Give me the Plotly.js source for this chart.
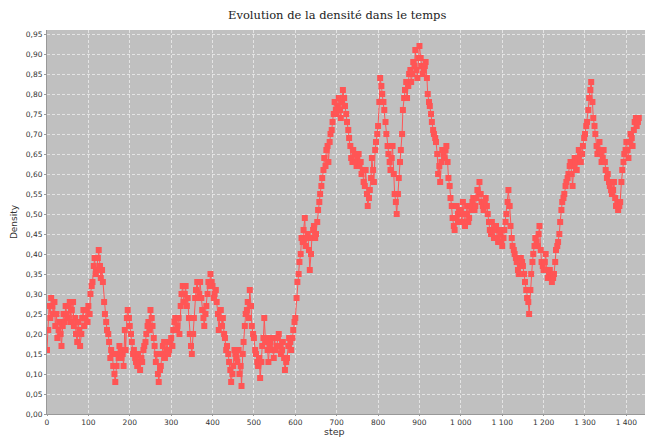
<!DOCTYPE html>
<html>
<head>
<meta charset="utf-8">
<script src="https://cdn.plot.ly/plotly-3.0.1.min.js"></script>
<style>html,body{margin:0;padding:0;background:#fff}#chart{width:656px;height:438px}</style>
</head>
<body>
<div id="chart"></div>
<script>
// Samples: a main reading every 5 steps, plus a second reading 3 steps later
const stepInterval = 5;
const altOffset = 3;

// Main density readings at steps 0, 5, 10, ... 1430
const density_0_95 = [0.16,0.27,0.29,0.25,0.22,0.19,0.23,0.17,0.25,0.27,0.24,0.28,0.26,0.22,0.20,0.23,0.17,0.24,0.22,0.26];
const density_100_195 = [0.27,0.30,0.33,0.39,0.36,0.41,0.34,0.33,0.25,0.21,0.18,0.16,0.12,0.08,0.15,0.17,0.14,0.12,0.16,0.26];
const density_200_295 = [0.22,0.18,0.16,0.13,0.15,0.11,0.13,0.17,0.20,0.23,0.26,0.22,0.17,0.15,0.08,0.12,0.17,0.14,0.18,0.16];
const density_300_395 = [0.19,0.21,0.24,0.22,0.20,0.30,0.28,0.32,0.29,0.20,0.15,0.24,0.31,0.29,0.33,0.26,0.22,0.27,0.33,0.35];
const density_400_495 = [0.32,0.30,0.28,0.21,0.26,0.24,0.19,0.17,0.13,0.08,0.12,0.15,0.13,0.10,0.07,0.18,0.25,0.28,0.31,0.22];
const density_500_595 = [0.19,0.15,0.12,0.09,0.17,0.24,0.19,0.13,0.18,0.16,0.19,0.17,0.20,0.15,0.18,0.11,0.14,0.19,0.16,0.21];
const density_600_695 = [0.24,0.33,0.38,0.44,0.46,0.42,0.45,0.36,0.44,0.47,0.45,0.51,0.55,0.59,0.64,0.66,0.63,0.70,0.73,0.78];
const density_700_795 = [0.75,0.79,0.74,0.81,0.77,0.73,0.69,0.64,0.66,0.63,0.64,0.62,0.60,0.58,0.61,0.52,0.56,0.64,0.58,0.68];
const density_800_895 = [0.72,0.84,0.80,0.76,0.70,0.65,0.61,0.67,0.55,0.50,0.59,0.66,0.76,0.81,0.79,0.85,0.83,0.88,0.91,0.84];
const density_900_995 = [0.92,0.87,0.86,0.88,0.80,0.77,0.73,0.70,0.68,0.60,0.58,0.66,0.64,0.67,0.59,0.54,0.49,0.46,0.52,0.48];
const density_1000_1095 = [0.50,0.53,0.47,0.52,0.49,0.51,0.54,0.52,0.56,0.58,0.53,0.51,0.54,0.50,0.46,0.48,0.44,0.47,0.43,0.45];
const density_1100_1195 = [0.42,0.46,0.50,0.56,0.47,0.42,0.40,0.38,0.35,0.39,0.37,0.33,0.29,0.25,0.35,0.40,0.44,0.42,0.47,0.38];
const density_1200_1295 = [0.36,0.40,0.34,0.36,0.33,0.35,0.41,0.43,0.48,0.53,0.55,0.58,0.60,0.63,0.57,0.64,0.61,0.66,0.63,0.67];
const density_1300_1395 = [0.70,0.73,0.79,0.83,0.74,0.70,0.65,0.68,0.63,0.66,0.61,0.60,0.57,0.55,0.58,0.52,0.51,0.53,0.61,0.65];
const density_1400_1430 = [0.68,0.64,0.70,0.67,0.73,0.72,0.74];

// Second readings at steps 3, 8, 13, ... 1428 (other edge of the noisy band)
const alt_0_95 = [0.21,0.24,0.27,0.28,0.25,0.21,0.20,0.22,0.23,0.25,0.27,0.23,0.28,0.24,0.18,0.21,0.20,0.26,0.24,0.23];
const alt_100_195 = [0.25,0.32,0.37,0.35,0.39,0.37,0.36,0.28,0.23,0.20,0.14,0.15,0.10,0.12,0.14,0.16,0.15,0.21,0.24,0.24];
const alt_200_295 = [0.20,0.15,0.14,0.12,0.13,0.14,0.16,0.18,0.22,0.21,0.24,0.19,0.13,0.10,0.11,0.15,0.18,0.16,0.15,0.18];
const alt_300_395 = [0.17,0.23,0.21,0.24,0.27,0.32,0.30,0.27,0.24,0.17,0.20,0.29,0.33,0.30,0.29,0.24,0.25,0.30,0.32,0.33];
const alt_400_495 = [0.29,0.31,0.25,0.24,0.22,0.20,0.16,0.15,0.11,0.10,0.16,0.14,0.16,0.12,0.15,0.22,0.26,0.24,0.27,0.20];
const alt_500_595 = [0.16,0.13,0.14,0.13,0.19,0.18,0.16,0.17,0.19,0.14,0.16,0.19,0.17,0.16,0.14,0.13,0.17,0.18,0.19,0.23];
const alt_600_695 = [0.29,0.35,0.40,0.43,0.49,0.44,0.41,0.40,0.46,0.44,0.48,0.53,0.57,0.61,0.62,0.67,0.68,0.71,0.75,0.76];
const alt_700_795 = [0.77,0.76,0.78,0.79,0.75,0.71,0.67,0.63,0.65,0.62,0.65,0.63,0.61,0.57,0.55,0.54,0.59,0.61,0.66,0.70];
const alt_800_895 = [0.78,0.82,0.78,0.73,0.67,0.63,0.64,0.60,0.53,0.55,0.63,0.70,0.79,0.83,0.82,0.86,0.85,0.87,0.86,0.89];
const alt_900_995 = [0.89,0.85,0.87,0.84,0.78,0.75,0.71,0.69,0.65,0.62,0.63,0.65,0.66,0.63,0.57,0.52,0.47,0.49,0.50,0.51];
const alt_1000_1095 = [0.48,0.50,0.50,0.48,0.52,0.53,0.51,0.54,0.55,0.55,0.52,0.53,0.52,0.48,0.45,0.46,0.46,0.44,0.46,0.43];
const alt_1100_1195 = [0.44,0.48,0.53,0.52,0.44,0.41,0.39,0.36,0.37,0.38,0.35,0.31,0.28,0.31,0.38,0.42,0.43,0.45,0.41,0.37];
const alt_1200_1295 = [0.38,0.36,0.35,0.34,0.34,0.38,0.42,0.45,0.51,0.54,0.57,0.59,0.62,0.60,0.62,0.63,0.64,0.65,0.65,0.69];
const alt_1300_1395 = [0.72,0.76,0.81,0.78,0.72,0.67,0.66,0.65,0.64,0.63,0.59,0.58,0.56,0.56,0.54,0.53,0.52,0.58,0.63,0.66];
const alt_1400_1430 = [0.66,0.68,0.69,0.71,0.74,0.73];

const yTickValues = [0,0.05,0.10,0.15,0.20,0.25,0.30,0.35,0.40,0.45,0.50,0.55,0.60,0.65,0.70,0.75,0.80,0.85,0.90,0.95];
const xTickValues = [0,100,200,300,400,500,600,700,800,900,1000,1100,1200,1300,1400];

const mainVals = [].concat(density_0_95, density_100_195, density_200_295, density_300_395,
  density_400_495, density_500_595, density_600_695, density_700_795, density_800_895,
  density_900_995, density_1000_1095, density_1100_1195, density_1200_1295,
  density_1300_1395, density_1400_1430);
const altVals = [].concat(alt_0_95, alt_100_195, alt_200_295, alt_300_395, alt_400_495,
  alt_500_595, alt_600_695, alt_700_795, alt_800_895, alt_900_995, alt_1000_1095,
  alt_1100_1195, alt_1200_1295, alt_1300_1395, alt_1400_1430);

const steps = [], density = [];
mainVals.forEach((v, i) => {
  steps.push(i * stepInterval); density.push(v);
  if (i < altVals.length) { steps.push(i * stepInterval + altOffset); density.push(altVals[i]); }
});

const trace = {
  x: steps, y: density, type: 'scatter', mode: 'lines+markers',
  line: {color: '#ff5555', width: 1},
  marker: {symbol: 'square', size: 6, color: '#ff5555'},
  hoverinfo: 'x+y'
};

const axisFont = {family: 'DejaVu Sans, sans-serif', size: 7.5, color: '#333'};
const gridCol = 'rgba(232,232,232,0.9)';

const layout = {
  width: 656, height: 438,
  margin: {l: 47, r: 11, t: 30, b: 24, pad: 0},
  paper_bgcolor: '#ffffff', plot_bgcolor: '#c0c0c0',
  separators: ', ',
  showlegend: false,
  title: {text: 'Evolution de la densité dans le temps', font: {family: 'DejaVu Serif, serif', size: 11.5, color: '#222'},
          x: 0.514, xref: 'container', xanchor: 'center', y: 0.965, yref: 'container', yanchor: 'middle'},
  xaxis: {range: [0, 1445], tickvals: xTickValues, tickformat: ',d', separatethousands: true,
          showgrid: true, gridcolor: gridCol, griddash: '3px,2px', gridwidth: 1,
          zeroline: false, showline: true, linecolor: '#999', linewidth: 1,
          ticks: 'outside', ticklen: 1, tickcolor: '#999', tickfont: axisFont},
  yaxis: {range: [0, 0.96], tickvals: yTickValues, tickformat: '.2f',
          showgrid: true, gridcolor: gridCol, griddash: '3px,2px', gridwidth: 1,
          zeroline: false, showline: true, linecolor: '#999', linewidth: 1,
          ticks: 'outside', ticklen: 2, tickcolor: '#999', tickfont: axisFont,
          title: {text: 'Density', font: {family: 'DejaVu Sans, sans-serif', size: 9, color: '#333'}, standoff: 6}},
  annotations: [{text: 'step', xref: 'paper', yref: 'paper', x: 0.48, y: -0.0625,
                 xanchor: 'center', yanchor: 'bottom', showarrow: false, borderpad: 0,
                 font: {family: 'DejaVu Sans, sans-serif', size: 9.5, color: '#333'}}]
};

Plotly.newPlot('chart', [trace], layout, {displayModeBar: false, staticPlot: true});
</script>
</body>
</html>
